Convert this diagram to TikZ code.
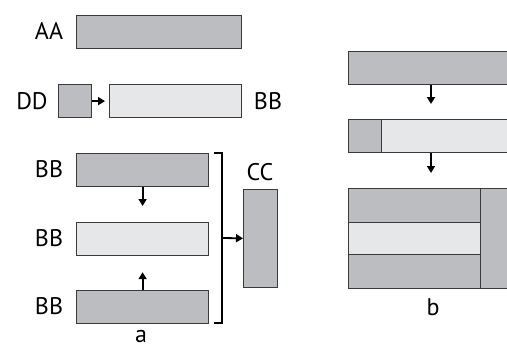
\documentclass[tikz,border=0pt]{standalone}
\usepackage{fontspec}
\setmainfont{PT Sans}
\usepackage{xcolor}
\usetikzlibrary{arrows.meta}

\definecolor{boxline}{HTML}{3A3A3A}
\definecolor{darkfill}{HTML}{BCBDC0}
\definecolor{lightfill}{HTML}{E6E7E8}

\tikzset{
  dark/.style={rectangle,draw=boxline,fill=darkfill,line width=1.2pt,inner sep=0pt,anchor=north west},
  light/.style={rectangle,draw=boxline,fill=lightfill,line width=1.2pt,inner sep=0pt,anchor=north west},
  lbl/.style={font=\fontsize{24}{28}\selectfont,inner sep=0pt},
  arr/.style={line width=1.8pt,-{Triangle[length=7pt,width=8pt]}}
}

\begin{document}
\begin{tikzpicture}[x=1pt,y=-1pt]
\clip (0,0) rectangle (507,348);
%\draw[help lines] (0,0) grid (507,348);
\path
(76,15) node(aa) [dark,minimum width=165pt,minimum height=33pt] {}
(58,84) node(dd) [dark,minimum width=33pt,minimum height=33pt] {}
(109,84) node(bb) [light,minimum width=132pt,minimum height=33pt] {}
(76,153) node(b1) [dark,minimum width=132pt,minimum height=33pt] {}
(76,222) node(b2) [light,minimum width=132pt,minimum height=33pt] {}
(76,290) node(b3) [dark,minimum width=132pt,minimum height=33pt] {}
(243,189) node(cc) [dark,minimum width=34pt,minimum height=98pt] {};

% right part, boxes run past the edge
\path
(348,51) node(r1) [dark,minimum width=175pt,minimum height=33pt] {}
(381,119) node(r2) [light,minimum width=142pt,minimum height=33pt] {}
(348,119) node(r2a) [dark,minimum width=33pt,minimum height=33pt] {}
(480,188) node(r3d) [dark,minimum width=43pt,minimum height=100pt] {}
(348,188) node(r3a) [dark,minimum width=132pt,minimum height=34pt] {}
(348,222) node(r3b) [light,minimum width=132pt,minimum height=32pt] {}
(348,254) node(r3c) [dark,minimum width=132pt,minimum height=34pt] {};

% labels
\path
(49,31) node(laa) [lbl] {AA}
(32,101) node(ldd) [lbl] {DD}
(268,101) node(lbb) [lbl] {BB}
(49,169) node(lb1) [lbl] {BB}
(49,238) node(lb2) [lbl] {BB}
(49,306) node(lb3) [lbl] {BB}
(260,172) node(lcc) [lbl] {CC}
(141,336) node(la) [lbl] {a}
(433,307) node(lb) [lbl] {b};

% bracket
\draw[line width=2pt] (214,153) -| (222,323) -- (214,323);
\coordinate (brk) at (222,238);

\draw[arr,shorten >=4pt] (dd) -- (bb);
\draw[arr,shorten >=16pt] (b1) -- (b2);
\draw[arr,shorten >=16pt] (b3) -- (b2);
\draw[arr] (brk) -- (cc);
\draw[arr,shorten >=15pt] ([xshift=83pt]r1.south west) -- ([xshift=83pt]r2a.north west);
\draw[arr,shorten >=15pt] ([xshift=83pt]r2a.south west) -- ([xshift=83pt]r3a.north west);
\end{tikzpicture}
\end{document}
